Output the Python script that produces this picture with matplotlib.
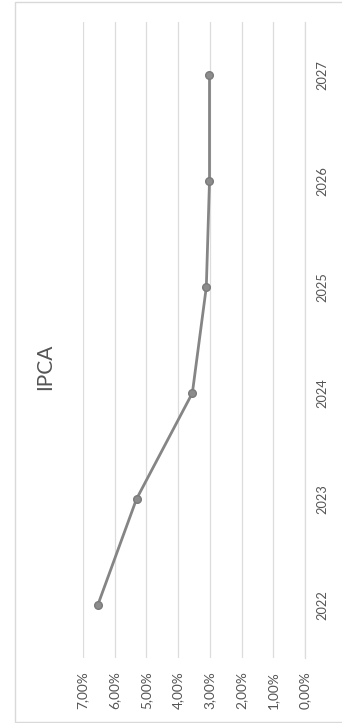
import matplotlib
matplotlib.use("Agg")
import matplotlib.pyplot as plt
from matplotlib.patches import Rectangle

years = ["2022", "2023", "2024", "2025", "2026", "2027"]
ipca = [6.53, 5.31, 3.55, 3.11, 3.01, 3.01]
value_ticks = [0, 1, 2, 3, 4, 5, 6, 7]
value_labels = ["0,00%", "1,00%", "2,00%", "3,00%", "4,00%", "5,00%", "6,00%", "7,00%"]
title = "IPCA"

plt.rcParams["font.family"] = ["Lato", "DejaVu Sans"]
W, H = 342, 723
fig = plt.figure(figsize=(W / 100, H / 100), dpi=100)
fig.patch.set_facecolor("white")

# outer chart frame
fig.patches.append(Rectangle((15 / W, 1 / H), (W - 14) / W, (H - 3) / H,
                             transform=fig.transFigure, fill=False,
                             edgecolor="#d9d9d9", linewidth=1.0))

ax = fig.add_axes([82.9 / W, 1 - 658 / H, (305 - 82.9) / W, 636 / H])
pos = list(range(len(years)))
ax.plot(ipca, pos, color="#858585", linewidth=2.0, marker="o",
        markersize=5.5, markerfacecolor="#8c8c8c", markeredgecolor="#7a7a7a",
        zorder=3)

ax.set_xlim(7, 0)
ax.set_ylim(-0.5, len(years) - 0.5)
ax.set_xticks(value_ticks)
ax.set_xticklabels(value_labels, rotation=90, fontsize=9.8, color="#555555")
ax.set_yticks(pos)
ax.set_yticklabels(years, rotation=90, fontsize=9.2, color="#555555", va="center")
ax.yaxis.tick_right()
ax.tick_params(axis="x", length=0, pad=9.5)
ax.tick_params(axis="y", length=0, pad=8.5)
ax.grid(axis="x", color="#dcdcdc", linewidth=0.9)
ax.set_axisbelow(True)
for side in ["top", "bottom", "left"]:
    ax.spines[side].set_visible(False)
ax.spines["right"].set_color("#dcdcdc")
ax.spines["right"].set_linewidth(0.9)

fig.text(45 / W, 1 - 367 / H, title, rotation=90, ha="center", va="center",
         fontsize=15, color="#555555")

fig.savefig("out.png", dpi=100, facecolor="white")
